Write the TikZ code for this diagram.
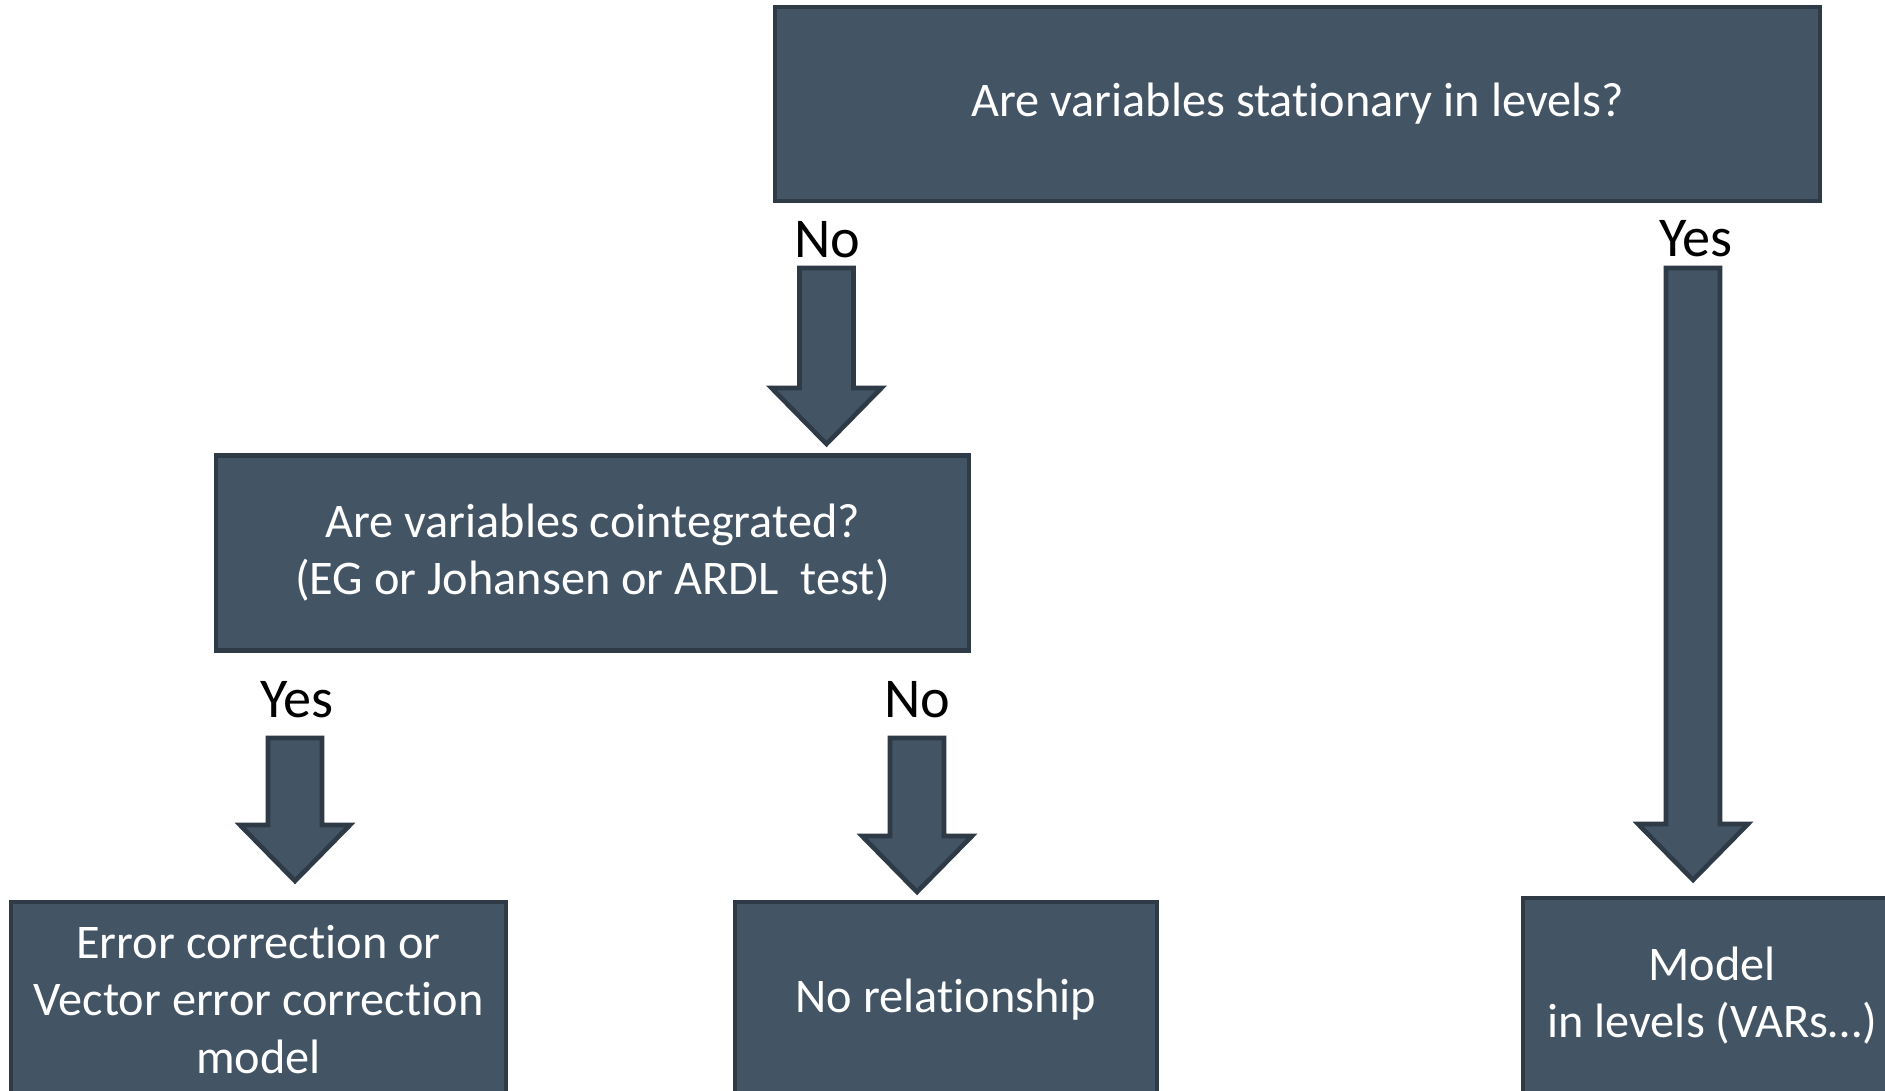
\documentclass[tikz,border=0pt]{standalone}
\usepackage{fontspec}
\setmainfont{Carlito}[Ligatures=CommonOff]
\usetikzlibrary{calc}

\definecolor{boxfill}{HTML}{435465}
\definecolor{boxline}{HTML}{2E3A46}

\tikzset{
    box/.style={draw=boxline, line width=2.6pt, fill=boxfill, text=white,
        align=center, inner sep=0pt, font=\fontsize{27.5}{32.5}\selectfont},
    answer/.style={anchor=base, text=black, font=\fontsize{32}{38}\selectfont},
    arrowbody/.style={draw=boxline, line width=2.6pt, fill=boxfill, line join=miter}
}

% #1 top of the shaft, #2 tip
\newcommand{\blockarrow}[2]{%
    \draw[arrowbody] ($#1+(-27,0)$) -- ($#1+(27,0)$) -- ($#2+(27,56)$)
        -- ($#2+(55,56)$) -- #2 -- ($#2+(-55,56)$) -- ($#2+(-27,56)$) -- cycle;}

\begin{document}
\begin{tikzpicture}[x=0.02cm, y=0.02cm]
    \useasboundingbox (0,0) rectangle (1885,-1091);
    \clip (0,0) rectangle (1885,-1091);

    % questions
    \node [box, minimum width=20.9cm, minimum height=3.88cm] (stationary) at (1297.5,-104)
        {Are variables stationary in levels?};
    \node [box, minimum width=15.06cm, minimum height=3.9cm] (cointegrated) at (592.5,-553)
        {Are variables cointegrated?\\(EG or Johansen or ARDL\ \ test)};

    % outcomes
    \node [box, minimum width=9.9cm, minimum height=3.9cm] (ecm) at (258.5,-999.5)
        {Error correction or\\Vector error correction\\model};
    \node [box, minimum width=8.44cm, minimum height=3.9cm] (norel) at (946,-999.5)
        {No relationship};
    \node [box, minimum width=7.56cm, minimum height=3.9cm] (levels) at (1712,-995.5)
        {Model\\in levels (VARs\ldots)};

    % answers
    \node [answer] (noStat) at (827,-257) {No};
    \node [answer] (yesStat) at (1696,-256) {Yes};
    \node [answer] (yesCoint) at (297,-717) {Yes};
    \node [answer] (noCoint) at (917,-717) {No};

    % arrows
    \coordinate (noStatTip) at (826.5,-444);
    \coordinate (yesStatTip) at (1693,-880);
    \coordinate (yesCointTip) at (295,-881);
    \coordinate (noCointTip) at (917,-892);
    \blockarrow{(826.5,-268)}{(noStatTip)}
    \blockarrow{(1693,-268)}{(yesStatTip)}
    \blockarrow{(295,-738)}{(yesCointTip)}
    \blockarrow{(917,-738)}{(noCointTip)}
\end{tikzpicture}
\end{document}
